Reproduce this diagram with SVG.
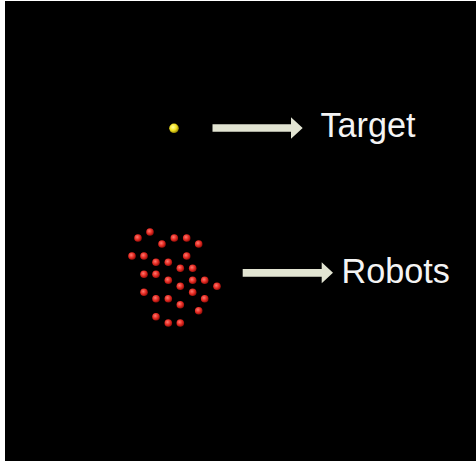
<svg xmlns="http://www.w3.org/2000/svg" width="476" height="463" viewBox="0 0 476 463">
  <style>
    .label { font-family: "Liberation Sans", Arial, sans-serif; font-size: 34.2px; fill: #f4f4f4; }
    .arrow { fill: #e2e4d2; }
  </style>
  <defs>
    <radialGradient id="robotShade" cx="0.4" cy="0.38" r="0.65">
      <stop offset="0" stop-color="#ff7a70"/>
      <stop offset="0.55" stop-color="#e52a22"/>
      <stop offset="1" stop-color="#8a0c08"/>
    </radialGradient>
    <radialGradient id="targetShade" cx="0.4" cy="0.38" r="0.65">
      <stop offset="0" stop-color="#ffff9a"/>
      <stop offset="0.55" stop-color="#f0e020"/>
      <stop offset="1" stop-color="#8a7a00"/>
    </radialGradient>
  </defs>

  <rect width="476" height="463" fill="#ffffff"/>
  <rect x="5" y="1" width="471" height="460" fill="#000000"/>

  <g id="target">
    <circle cx="174" cy="128.3" r="4.8" fill="url(#targetShade)"/>
  </g>

  <g id="robots" fill="url(#robotShade)">
    <circle cx="150" cy="232" r="3.8"/>
    <circle cx="138" cy="238" r="3.8"/>
    <circle cx="174.3" cy="238" r="3.8"/>
    <circle cx="186.7" cy="238" r="3.8"/>
    <circle cx="162" cy="244" r="3.8"/>
    <circle cx="198.7" cy="244" r="3.8"/>
    <circle cx="132" cy="256" r="3.8"/>
    <circle cx="144" cy="256" r="3.8"/>
    <circle cx="186.7" cy="256" r="3.8"/>
    <circle cx="156" cy="262.3" r="3.8"/>
    <circle cx="168.3" cy="262.3" r="3.8"/>
    <circle cx="180.3" cy="268.3" r="3.8"/>
    <circle cx="192.7" cy="268.3" r="3.8"/>
    <circle cx="144" cy="274.3" r="3.8"/>
    <circle cx="156" cy="274.3" r="3.8"/>
    <circle cx="168.3" cy="280.3" r="3.8"/>
    <circle cx="192.7" cy="280.3" r="3.8"/>
    <circle cx="204.7" cy="280.3" r="3.8"/>
    <circle cx="180.3" cy="286.3" r="3.8"/>
    <circle cx="217" cy="286.3" r="3.8"/>
    <circle cx="144" cy="292.3" r="3.8"/>
    <circle cx="192.7" cy="292.3" r="3.8"/>
    <circle cx="156" cy="298.7" r="3.8"/>
    <circle cx="168.3" cy="298.7" r="3.8"/>
    <circle cx="204.7" cy="298.7" r="3.8"/>
    <circle cx="180.3" cy="304.7" r="3.8"/>
    <circle cx="198.7" cy="310.7" r="3.8"/>
    <circle cx="156" cy="316.7" r="3.8"/>
    <circle cx="168.3" cy="323" r="3.8"/>
    <circle cx="180.3" cy="323" r="3.8"/>
  </g>

  <g id="connectors">
    <polygon class="arrow" points="212.5,124.3 291,124.3 291,117.3 302.7,128 291,138.7 291,131.7 212.5,131.7"/>
    <polygon class="arrow" points="242.7,269 321.7,269 321.7,262.3 333,272.8 321.7,283.3 321.7,276.7 242.7,276.7"/>
  </g>

  <g id="labels">
    <text class="label" x="320.5" y="137">Target</text>
    <text class="label" x="341.5" y="282.5">Robots</text>
  </g>
</svg>
